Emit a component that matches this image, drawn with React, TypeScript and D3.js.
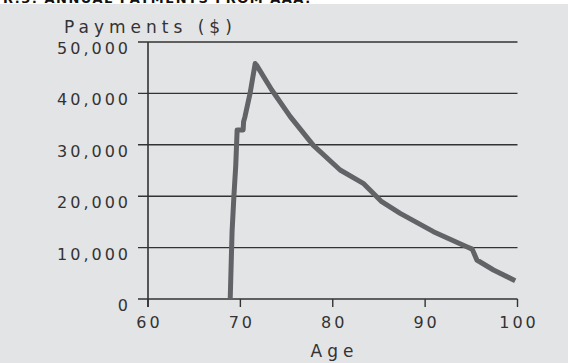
import React from "react";
import * as d3 from "d3";

const ages = [68.9, 69.0, 69.1, 69.3, 69.5, 69.65, 70.3, 70.35, 70.5, 71.05, 71.6, 71.75, 73.4, 75.4, 77.9, 80.8, 83.3, 85.3, 87.3, 90.9, 94.5, 95.1, 95.6, 97.4, 99.75];
const payments = [0, 6600, 13000, 20000, 26000, 32900, 32900, 34500, 35500, 40000, 45800, 45500, 40660, 35470, 29900, 25100, 22500, 18930, 16670, 13100, 10180, 9700, 7590, 5640, 3560];
const xTicks = [60, 70, 80, 90, 100];
const yTicks = [0, 10000, 20000, 30000, 40000, 50000];
const yTitle = "Payments ($)";
const xTitle = "Age";
const figTitle = "R.3: ANNUAL PAYMENTS FROM AAA.";

export default function App() {
  const W = 568, H = 363;
  const x = d3.scaleLinear().domain([60, 100]).range([148, 517.5]);
  const y = d3.scaleLinear().domain([0, 50000]).range([299, 42]);
  const pts = ages.map((a, i) => [a, payments[i]] as [number, number]);
  const line = d3.line<[number, number]>().x(d => x(d[0])).y(d => y(d[1]));
  const fmt = d3.format(",");
  const font = "'DejaVu Sans', Verdana, sans-serif";
  return (
    <div style={{ position: "fixed", left: 0, top: 0, width: W, height: H }}>
      <svg width={W} height={H} style={{ display: "block" }}>
        <rect x={0} y={0} width={W} height={H} fill="#ffffff" />
        <rect x={0} y={4} width={W} height={H - 4} fill="#e3e4e6" />
        <text x={3} y={3} fontFamily={font} fontWeight="bold" fontSize={13} letterSpacing={1.5} fill="#111">{figTitle}</text>
        {yTicks.map(t => (
          <g key={"y" + t}>
            <line x1={138} x2={x(100)} y1={y(t)} y2={y(t)} stroke="#333" strokeWidth={1.4} />
            <text x={128 + 3} y={y(t) + 12} textAnchor="end" fontFamily={font} fontSize={16} letterSpacing={3} fill="#333">{fmt(t)}</text>
          </g>
        ))}
        <line x1={x(60)} x2={x(60)} y1={y(50000)} y2={307} stroke="#333" strokeWidth={1.6} />
        {xTicks.map(t => (
          <g key={"x" + t}>
            <line x1={x(t)} x2={x(t)} y1={y(0)} y2={307} stroke="#333" strokeWidth={1.4} />
            <text x={x(t) + 1.5} y={328} textAnchor="middle" fontFamily={font} fontSize={16} letterSpacing={3} fill="#333">{t}</text>
          </g>
        ))}
        <path d={line(pts) || ""} fill="none" stroke="#626366" strokeWidth={5} strokeLinejoin="round" strokeLinecap="butt" />
        <text x={64} y={33} fontFamily={font} fontSize={17} letterSpacing={5} fill="#333">{yTitle}</text>
        <text x={332 + 2.5} y={357} textAnchor="middle" fontFamily={font} fontSize={17} letterSpacing={5} fill="#333">{xTitle}</text>
      </svg>
    </div>
  );
}
